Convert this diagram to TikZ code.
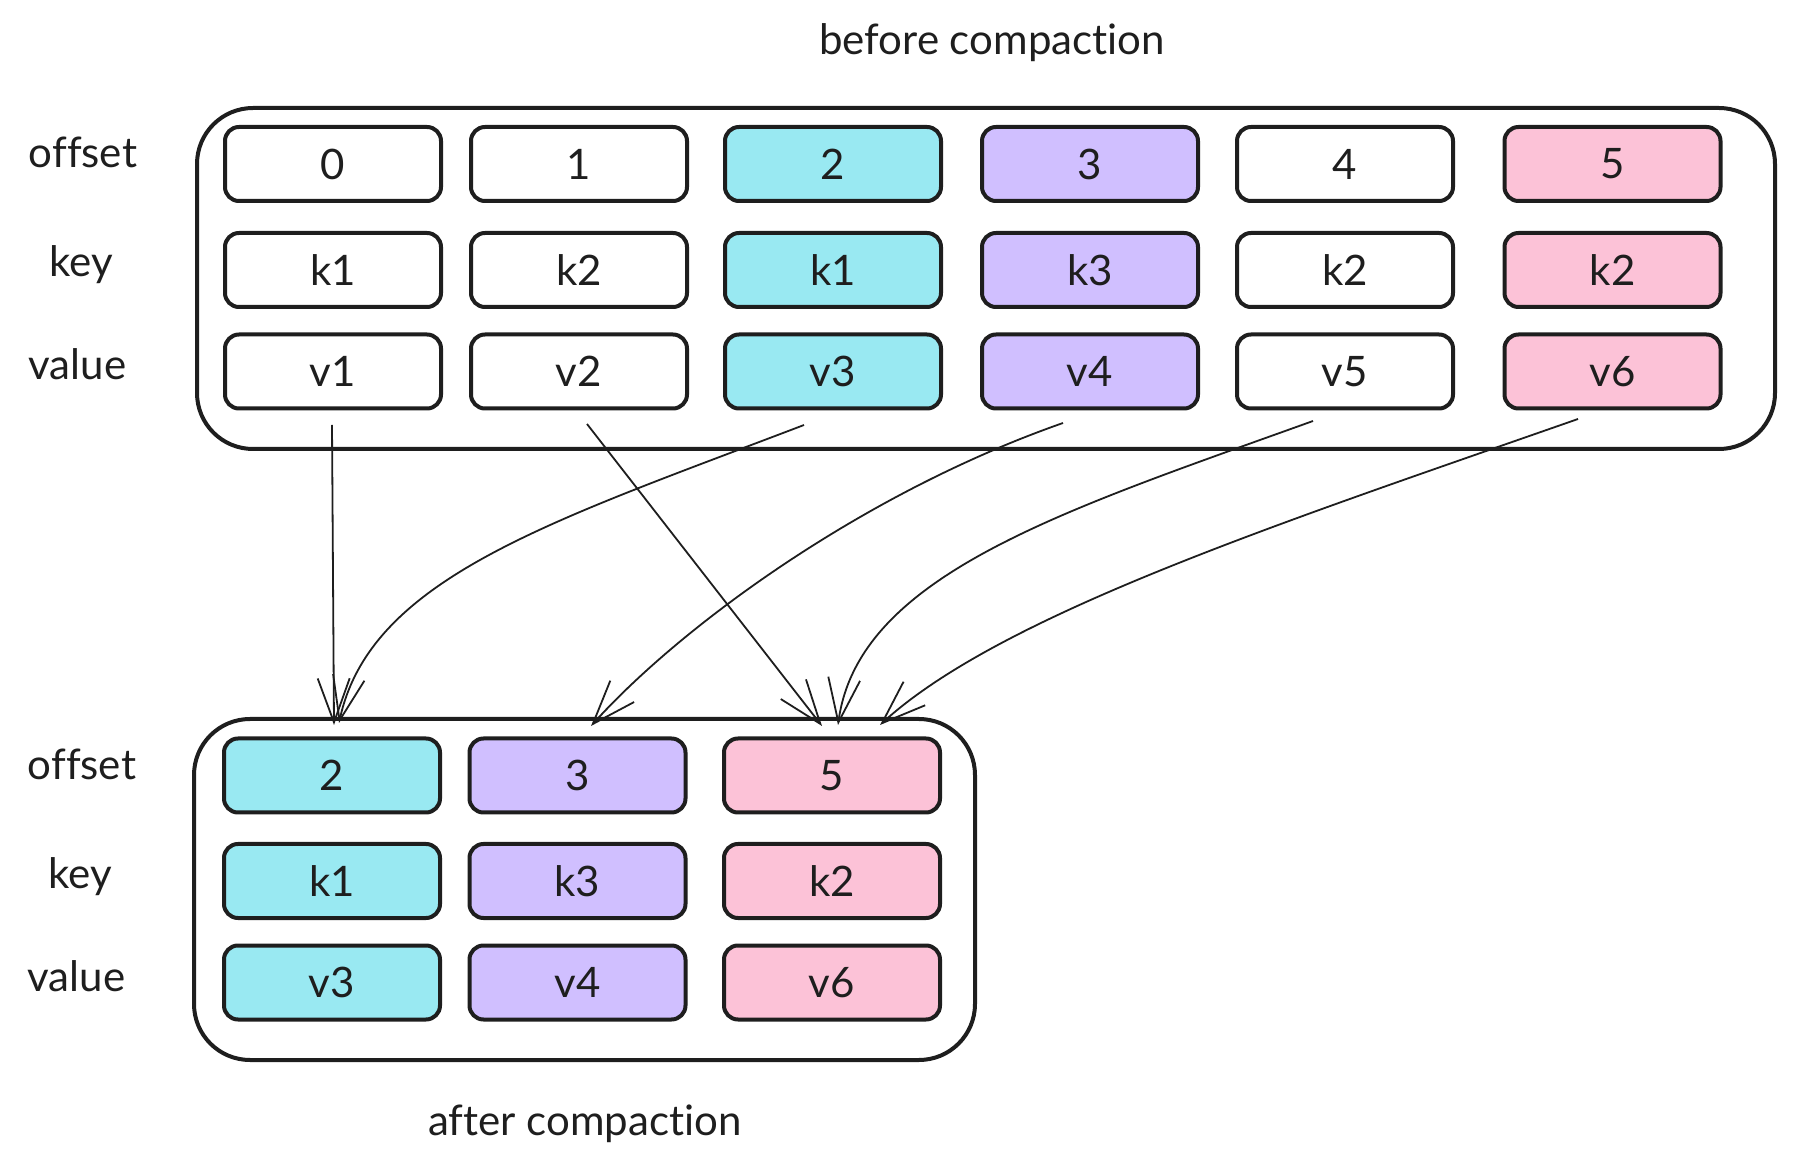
\documentclass[tikz,border=0pt]{standalone}
\usepackage{fontspec}
\setmainfont{Lato}[Ligatures={NoCommon,NoRare,NoContextual}]
\usetikzlibrary{arrows.meta,calc}
\definecolor{ink}{HTML}{1E1E1E}
\definecolor{cy}{HTML}{99E9F2}
\definecolor{vi}{HTML}{D0BFFF}
\definecolor{pk}{HTML}{FCC2D7}
\begin{document}
\begin{tikzpicture}[x=0.5pt,y=-0.5pt,
  cell/.style={draw=ink, line width=2pt, rounded corners=7pt, minimum width=108pt, minimum height=37pt, inner sep=0pt, text=ink, font=\fontsize{21}{25}\selectfont},
  frame/.style={draw=ink, line width=2pt, rounded corners=28pt, inner sep=0pt},
  lbl/.style={anchor=base, text=ink, font=\fontsize{21}{25}\selectfont, inner sep=0pt},
  arr/.style={draw=ink, line width=0.9pt, -{Straight Barb[length=22pt,width=16pt]}}]
\useasboundingbox (0,0) rectangle (1795,1170);
% frames
\node[frame, minimum width=789pt, minimum height=170.5pt] (topframe) at (986,278.5) {};
\node[frame, minimum width=390.5pt, minimum height=170.5pt] (botframe) at (584.5,889.5) {};
% titles
\node[lbl] (ttl1) at (992,55) {before compaction};
\node[lbl] (ttl2) at (585,1135) {after compaction};
% row labels
\node[lbl] (lo1) at (83,168) {offset};
\node[lbl] (lk1) at (81,277) {key};
\node[lbl] (lv1) at (77.5,380) {value};
\node[lbl] (lo2) at (82,779.5) {offset};
\node[lbl] (lk2) at (80,888.5) {key};
\node[lbl] (lv2) at (76.5,991.5) {value};
% top cells
\foreach \i/\x/\c/\k/\v in {0/333/white/k1/v1,1/579/white/k2/v2,2/833/cy/k1/v3,3/1090/vi/k3/v4,4/1345/white/k2/v5,5/1612.5/pk/k2/v6}{
  \node[cell, fill=\c] (t-o-\i) at (\x,164) {\i};
  \node[cell, fill=\c] (t-k-\i) at (\x,270) {\k};
  \node[cell, fill=\c] (t-v-\i) at (\x,371.5) {\v};
}
% bottom cells
\foreach \j/\x/\c/\o/\k/\v in {0/332/cy/2/k1/v3,1/577.5/vi/3/k3/v4,2/832/pk/5/k2/v6}{
  \node[cell, fill=\c] (b-o-\j) at (\x,775.5) {\o};
  \node[cell, fill=\c] (b-k-\j) at (\x,881) {\k};
  \node[cell, fill=\c] (b-v-\j) at (\x,982.5) {\v};
}
% arrows
\draw[arr] ($(t-v-0.south)+(-1,14.5)$) -- ($(b-o-0.north)+(2,-11.5)$);
\draw[arr] ($(t-v-1.south)+(8,13.5)$) -- ($(b-o-2.north)+(-10,-10.5)$);
\draw[arr] ($(t-v-2.south)+(-29,14.5)$) .. controls +(-254,97) and +(31,-145) .. ($(b-o-0.north)+(7,-13.5)$);
\draw[arr] ($(t-v-3.south)+(-27,12.5)$) .. controls +(-200,70) and +(90,-100) .. ($(b-o-1.north)+(13.5,-10.5)$);
\draw[arr] ($(t-v-4.south)+(-32,10.5)$) .. controls +(-250,90) and +(20,-150) .. ($(b-o-2.north)+(6,-11.5)$);
\draw[arr] ($(t-v-5.south)+(-34.5,8.5)$) .. controls +(-300,105) and +(120,-110) .. ($(b-o-2.north)+(48,-11.5)$);
\end{tikzpicture}
\end{document}
